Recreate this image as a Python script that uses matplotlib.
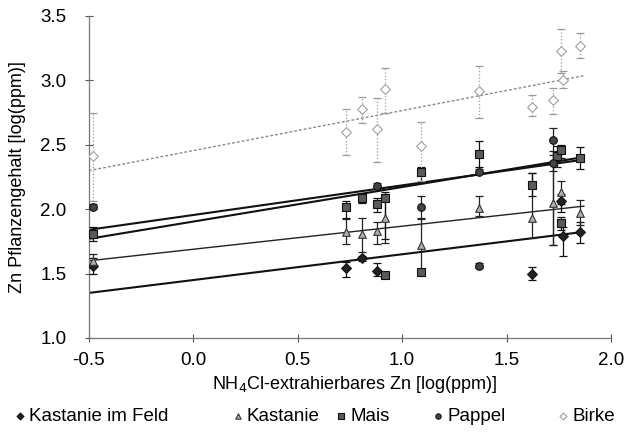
import numpy as np
import matplotlib
matplotlib.use("Agg")
from matplotlib import pyplot as plt

plt.rcParams['font.family'] = ['Liberation Sans', 'DejaVu Sans']
plt.rcParams['axes.unicode_minus'] = False

series = ["Kastanie im Feld", "Kastanie", "Mais", "Pappel", "Birke"]

# Kastanie im Feld
kf_x = [-0.48, 0.73, 0.81, 0.88, 1.62, 1.76, 1.77, 1.85]
kf_y = [1.56, 1.54, 1.62, 1.52, 1.50, 2.06, 1.79, 1.82]
kf_lo = [1.50, 1.47, 1.60, 1.48, 1.45, 1.98, 1.64, 1.74]
kf_hi = [1.62, 1.59, 1.64, 1.58, 1.55, 2.12, 1.86, 1.90]

# Kastanie
ka_x = [-0.48, 0.73, 0.81, 0.88, 0.92, 1.09, 1.37, 1.62, 1.72, 1.76, 1.85]
ka_y = [1.60, 1.82, 1.81, 1.83, 1.93, 1.72, 2.01, 1.93, 2.05, 2.13, 1.97]
ka_lo = [1.55, 1.73, 1.67, 1.73, 1.74, 1.50, 1.95, 1.78, 1.72, 2.04, 1.88]
ka_hi = [1.65, 1.92, 1.93, 1.90, 2.10, 1.93, 2.10, 2.28, 2.45, 2.22, 2.07]

# Mais
ma_x = [-0.48, 0.73, 0.81, 0.88, 0.92, 0.92, 1.09, 1.09, 1.37, 1.62, 1.74, 1.76, 1.76, 1.85]
ma_y = [1.81, 2.02, 2.09, 2.04, 2.09, 1.49, 2.29, 1.51, 2.43, 2.19, 2.41, 2.46, 1.89, 2.40]
ma_lo = [1.75, 1.93, 2.05, 1.98, 1.77, 1.47, 2.20, 1.49, 2.33, 2.10, 2.33, 2.40, 1.84, 2.31]
ma_hi = [1.86, 2.06, 2.12, 2.09, 2.13, 1.51, 2.33, 1.53, 2.53, 2.28, 2.49, 2.50, 1.94, 2.48]

# Pappel
pa_x = [-0.48, 0.88, 1.09, 1.37, 1.37, 1.72, 1.72]
pa_y = [2.02, 2.18, 2.02, 2.29, 1.56, 2.54, 2.36]
pa_lo = [2.00, 2.16, 1.92, 2.27, 1.54, 1.72, 2.30]
pa_hi = [2.04, 2.20, 2.10, 2.31, 1.58, 2.63, 2.42]

# Birke
bi_x = [-0.48, 0.73, 0.81, 0.88, 0.92, 1.09, 1.37, 1.62, 1.72, 1.76, 1.77, 1.85]
bi_y = [2.41, 2.60, 2.78, 2.62, 2.93, 2.49, 2.92, 2.79, 2.85, 3.23, 3.00, 3.27]
bi_lo = [2.06, 2.42, 2.67, 2.37, 2.75, 2.22, 2.71, 2.72, 2.74, 3.06, 2.94, 3.17]
bi_hi = [2.75, 2.78, 2.87, 2.86, 3.10, 2.68, 3.11, 2.89, 2.94, 3.40, 3.07, 3.37]

# regression lines (slope, intercept) as printed
fit_slope = [0.200, 0.179, 0.268, 0.230, 0.311]
fit_intercept = [1.450, 1.689, 1.904, 1.955, 2.455]
fit_range = [-0.5, 1.87]

xticks = [-0.5, 0.0, 0.5, 1.0, 1.5, 2.0]
yticks = [1.0, 1.5, 2.0, 2.5, 3.0, 3.5]

data = [
    (kf_x, kf_y, kf_lo, kf_hi),
    (ka_x, ka_y, ka_lo, ka_hi),
    (ma_x, ma_y, ma_lo, ma_hi),
    (pa_x, pa_y, pa_lo, pa_hi),
    (bi_x, bi_y, bi_lo, bi_hi),
]
markers = ['D', '^', 's', 'o', 'D']
face = ['#222222', '#b0b0b0', '#5a5a5a', '#444444', 'white']
edge = ['#111111', '#333333', '#111111', '#111111', '#a0a0a0']
msize = [5, 5.5, 5.5, 5.5, 5]
ecol = ['#111111', '#222222', '#111111', '#222222', '#999999']
els = ['-', '-', '-', '-', ':']
line_col = ['#111111', '#222222', '#111111', '#111111', '#888888']
line_w = [1.5, 1.0, 1.5, 1.5, 1.0]
line_ls = ['-', '-', '-', '-', (0, (2, 1.5))]
# legend item left edges (figure fraction)
leg_x = [0.024, 0.372, 0.537, 0.692, 0.892]

fig = plt.figure(figsize=(6.26, 4.32), dpi=100)
ax = fig.add_axes([0.142, 0.2176, 0.834, 0.7454])

fx = np.array(fit_range)
for i, name in enumerate(series):
    ax.plot(fx, fit_intercept[i] + fit_slope[i] * fx, color=line_col[i],
            lw=line_w[i], ls=line_ls[i], zorder=2)

handles = []
for i, name in enumerate(series):
    x, y, lo, hi = data[i]
    y = np.array(y)
    yerr = [y - np.array(lo), np.array(hi) - y]
    eb = ax.errorbar(x, y, yerr=yerr, fmt='none', ecolor=ecol[i], elinewidth=0.9,
                     capsize=3, capthick=0.9, zorder=3)
    eb[2][0].set_linestyle(els[i])
    h = ax.scatter(x, y, marker=markers[i], s=msize[i] ** 2, facecolor=face[i],
                   edgecolor=edge[i], linewidths=0.8, zorder=4, label=name)
    handles.append(h)

ax.set_xlim(-0.5, 2.0)
ax.set_ylim(1.0, 3.5)
ax.set_xticks(xticks)
ax.set_yticks(yticks)
ax.set_xticklabels(['%.1f' % v for v in xticks], fontsize=13.5)
ax.set_yticklabels(['%.1f' % v for v in yticks], fontsize=13.5)
ax.tick_params(axis='y', direction='inout', length=6, width=0.8, color='#555555', pad=13)
ax.tick_params(axis='x', direction='inout', length=6, width=0.8, color='#555555', pad=7)
for s in ['top', 'right']:
    ax.spines[s].set_visible(False)
for s in ['left', 'bottom']:
    ax.spines[s].set_color('#777777')
    ax.spines[s].set_linewidth(0.9)

ax.set_ylabel('Zn Pflanzengehalt [log(ppm)]', fontsize=13)
ax.yaxis.set_label_coords(-0.12, 0.5)
ax.set_xlabel('NH$_4$Cl-extrahierbares Zn [log(ppm)]', fontsize=13)
ax.xaxis.set_label_coords(0.51, -0.112)

for i, name in enumerate(series):
    fig.legend(handles=[handles[i]], labels=[name], loc='center left',
               bbox_to_anchor=(leg_x[i], 0.037), frameon=False, fontsize=13.5,
               handlelength=0.5, handletextpad=0.25, borderpad=0, borderaxespad=0,
               markerscale=0.7)

fig.savefig('out.png', dpi=100)
